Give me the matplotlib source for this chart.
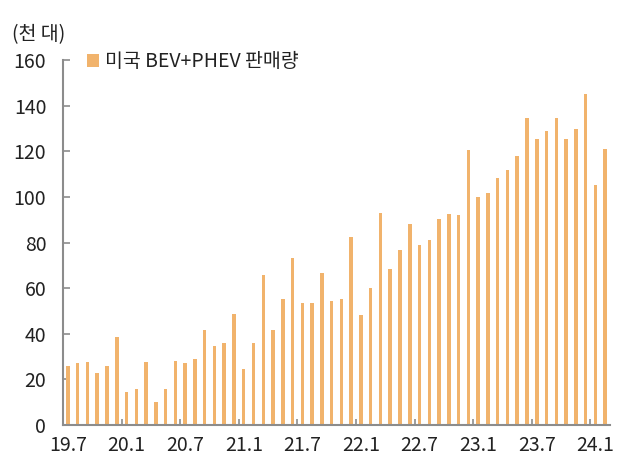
import matplotlib
matplotlib.use("Agg")
import matplotlib.pyplot as plt
import numpy as np

plt.rcParams['font.family'] = ['Noto Sans CJK KR', 'DejaVu Sans']

# Monthly US BEV+PHEV sales (thousand units), 2019.7 - 2024.2
months = []
for y in range(2019, 2025):
    for m in range(1, 13):
        if (y == 2019 and m < 7) or (y == 2024 and m > 2):
            continue
        months.append(f"{y % 100}.{m}")

sales = [26.0, 27.3, 27.5, 22.7, 25.7, 38.7,
         14.6, 15.9, 27.5, 9.9, 15.6, 28.1, 27.0, 28.9, 41.5, 34.6, 36.0, 48.5,
         24.4, 36.0, 65.6, 41.7, 55.1, 73.4, 53.5, 53.5, 66.8, 54.4, 55.4, 82.3,
         48.2, 60.2, 93.1, 68.6, 76.8, 88.2, 78.9, 81.3, 90.4, 92.7, 92.1, 120.5,
         100.0, 101.6, 108.3, 111.7, 118.1, 134.4, 125.3, 128.8, 134.8, 125.4, 129.7, 145.0,
         105.3, 120.8]

label_months = ["19.7", "20.1", "20.7", "21.1", "21.7", "22.1", "22.7", "23.1", "23.7", "24.1"]
y_ticks = [0, 20, 40, 60, 80, 100, 120, 140, 160]
legend_label = "미국 BEV+PHEV 판매량"
unit_label = "(천 대)"

bar_color = "#F1B36C"
text_color = "#222222"
axis_color = "#8C8C8C"

fig = plt.figure(figsize=(6.24, 4.55), dpi=100)
ax = fig.add_axes([0.101, 0.066, 0.8766, 0.802])

x = np.arange(len(sales))
bars = ax.bar(x, sales, width=0.36, color=bar_color, label=legend_label, zorder=2)

ax.set_xlim(-0.5, len(sales) - 0.5)
ax.set_ylim(0, 160)

# labels at category centres, ticks at category boundaries
label_pos = [months.index(m) for m in label_months]
ax.set_xticks(label_pos)
ax.set_xticklabels(label_months, fontsize=14, color=text_color)
ax.tick_params(axis='x', length=0, pad=7)
ax.set_xticks([p - 0.5 for p in label_pos], minor=True)
ax.tick_params(axis='x', which='minor', direction='in', length=4, width=1.2, color=axis_color)

ax.set_yticks(y_ticks)
ax.set_yticklabels([str(v) for v in y_ticks], fontsize=14, color=text_color)
ax.tick_params(axis='y', direction='in', length=5, width=1.2, color=axis_color, pad=12)

for s in ['top', 'right']:
    ax.spines[s].set_visible(False)
for s in ['left', 'bottom']:
    ax.spines[s].set_color(axis_color)
    ax.spines[s].set_linewidth(1.5)

leg = ax.legend(loc='upper left', bbox_to_anchor=(0.03, 1.045), frameon=False,
                fontsize=14, handlelength=0.6, handleheight=0.6, handletextpad=0.3,
                borderaxespad=0)
for t in leg.get_texts():
    t.set_color(text_color)

fig.text(0.019, 0.925, unit_label, fontsize=14, color=text_color, va='center', ha='left')

fig.savefig("out.png", dpi=100)
